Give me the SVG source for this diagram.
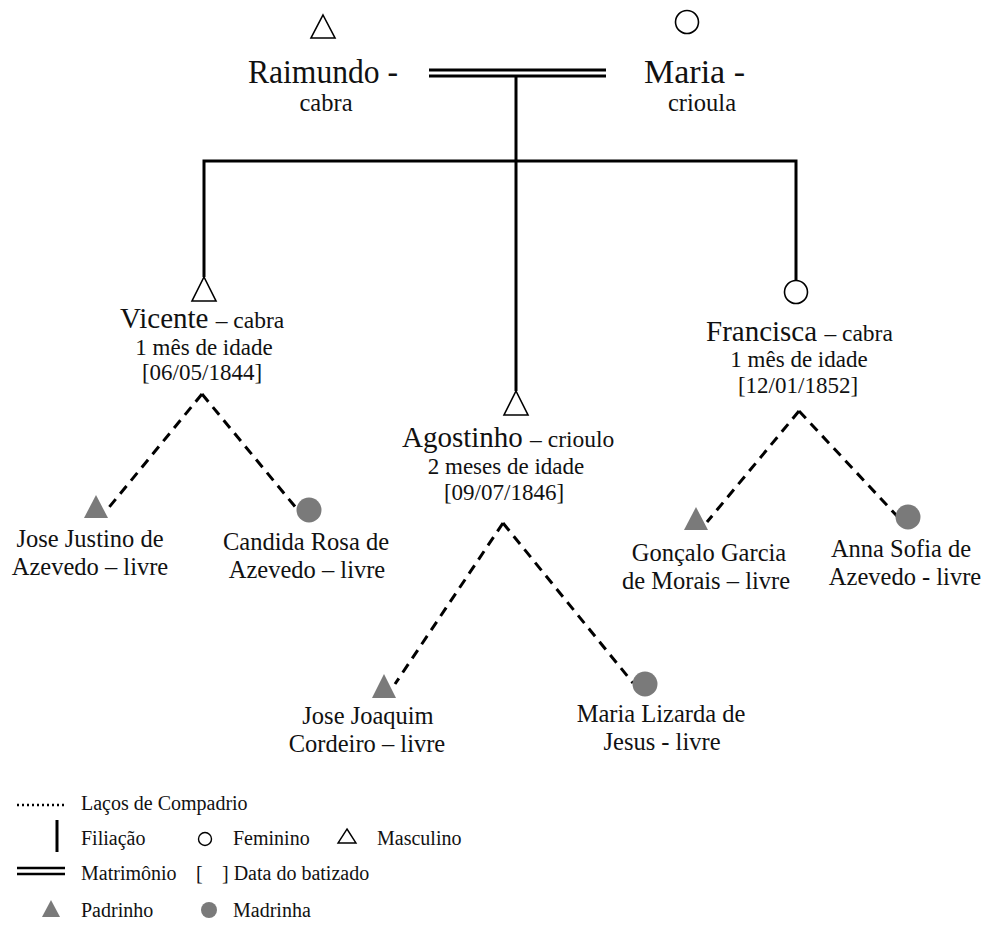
<svg xmlns="http://www.w3.org/2000/svg" width="990" height="925" viewBox="0 0 990 925">
  <defs>
    <style>
      text { font-family: "Liberation Serif", "Times New Roman", serif; fill: #111; }
      .big { font-size: 34px; }
      .name { font-size: 29px; }
      .sub { font-size: 23px; }
      .gp { font-size: 24.5px; }
      .small { font-size: 23.5px; }
      .leg { font-size: 20px; }
      .solid { stroke: #000; stroke-width: 3; fill: none; }
      .dash { stroke: #000; stroke-width: 3; fill: none; stroke-dasharray: 10 7; }
      .sym { stroke: #000; stroke-width: 1.6; fill: #fff; }
      .god { fill: #7a7a7a; stroke: none; }
    </style>
  </defs>
  <rect width="990" height="925" fill="#fff"/>

  <!-- marriage, filiation and compadrio ties -->
  <g id="connectors">
    <line class="solid" x1="429" y1="70" x2="606" y2="70"/>
    <line class="solid" x1="429" y1="76" x2="606" y2="76"/>
    <line class="solid" x1="516" y1="76" x2="516" y2="391"/>
    <polyline class="solid" points="204,277 204,161 796,161 796,281"/>
    <line class="dash" x1="202" y1="394" x2="106" y2="511"/>
    <line class="dash" x1="202" y1="394" x2="297" y2="509"/>
    <line class="dash" x1="503" y1="523" x2="395" y2="684"/>
    <line class="dash" x1="503" y1="523" x2="633" y2="683"/>
    <line class="dash" x1="799" y1="411" x2="707" y2="522"/>
    <line class="dash" x1="799" y1="411" x2="897" y2="516"/>
  </g>

  <g id="raimundo">
    <polygon class="sym" points="323,15 335,38 311,38"/>
    <text class="big" x="248" y="83" textLength="150" lengthAdjust="spacingAndGlyphs">Raimundo -</text>
    <text class="gp" x="326" y="111" text-anchor="middle">cabra</text>
  </g>

  <g id="maria">
    <circle class="sym" cx="687" cy="22" r="11.5"/>
    <text class="big" x="644" y="83">Maria -</text>
    <text class="gp" x="702" y="111" text-anchor="middle">crioula</text>
  </g>

  <g id="vicente">
    <polygon class="sym" points="204,277 216,301 192,301"/>
    <text x="120" y="328"><tspan class="name">Vicente </tspan><tspan class="small">– cabra</tspan></text>
    <text class="sub" x="204" y="355" text-anchor="middle">1 mês de idade</text>
    <text class="sub" x="202" y="380" text-anchor="middle">[06/05/1844]</text>
  </g>

  <g id="agostinho">
    <polygon class="sym" points="516,391 528,415 504,415"/>
    <text x="402" y="447"><tspan class="name">Agostinho </tspan><tspan class="small">– crioulo</tspan></text>
    <text class="sub" x="506" y="474" text-anchor="middle">2 meses de idade</text>
    <text class="sub" x="504" y="500" text-anchor="middle">[09/07/1846]</text>
  </g>

  <g id="francisca">
    <circle class="sym" cx="796" cy="292" r="11.5"/>
    <text x="706" y="341"><tspan class="name">Francisca </tspan><tspan class="small">– cabra</tspan></text>
    <text class="sub" x="799" y="367" text-anchor="middle">1 mês de idade</text>
    <text class="sub" x="798" y="393" text-anchor="middle">[12/01/1852]</text>
  </g>

  <g id="jose-justino">
    <polygon class="god" points="96,495 108,518 84,518"/>
    <text class="gp" x="90" y="547" text-anchor="middle">Jose Justino de</text>
    <text class="gp" x="90" y="575" text-anchor="middle">Azevedo – livre</text>
  </g>

  <g id="candida-rosa">
    <circle class="god" cx="309" cy="510" r="12.5"/>
    <text class="gp" x="306" y="550" text-anchor="middle">Candida Rosa de</text>
    <text class="gp" x="307" y="578" text-anchor="middle">Azevedo – livre</text>
  </g>

  <g id="jose-joaquim">
    <polygon class="god" points="384,674 396,698 372,698"/>
    <text class="gp" x="368" y="724" text-anchor="middle">Jose Joaquim</text>
    <text class="gp" x="367" y="752" text-anchor="middle">Cordeiro – livre</text>
  </g>

  <g id="maria-lizarda">
    <circle class="god" cx="645" cy="684" r="12.5"/>
    <text class="gp" x="661" y="722" text-anchor="middle">Maria Lizarda de</text>
    <text class="gp" x="662" y="750" text-anchor="middle">Jesus - livre</text>
  </g>

  <g id="goncalo-garcia">
    <polygon class="god" points="696,507 708,530 684,530"/>
    <text class="gp" x="709" y="561" text-anchor="middle">Gonçalo Garcia</text>
    <text class="gp" x="706" y="589" text-anchor="middle">de Morais – livre</text>
  </g>

  <g id="anna-sofia">
    <circle class="god" cx="908" cy="517" r="12.5"/>
    <text class="gp" x="901" y="557" text-anchor="middle">Anna Sofia de</text>
    <text class="gp" x="905" y="585" text-anchor="middle">Azevedo - livre</text>
  </g>

  <!-- legend -->
  <g id="legend">
    <line x1="17" y1="805" x2="66" y2="805" stroke="#000" stroke-width="2.5" stroke-dasharray="2 3"/>
    <text class="leg" x="81" y="810">Laços de Compadrio</text>
    <line x1="57" y1="820" x2="57" y2="852" stroke="#000" stroke-width="3"/>
    <text class="leg" x="81" y="845">Filiação</text>
    <circle cx="205" cy="839" r="6.5" fill="#fff" stroke="#000" stroke-width="1.4"/>
    <text class="leg" x="233" y="845">Feminino</text>
    <polygon points="347,829 356,843 338,843" fill="#fff" stroke="#000" stroke-width="1.4"/>
    <text class="leg" x="377" y="845">Masculino</text>
    <line x1="17" y1="868" x2="65" y2="868" stroke="#000" stroke-width="2.5"/>
    <line x1="17" y1="874" x2="65" y2="874" stroke="#000" stroke-width="2.5"/>
    <text class="leg" x="81" y="880">Matrimônio</text>
    <text class="leg" x="196" y="880">[</text>
    <text class="leg" x="222" y="880">] Data do batizado</text>
    <polygon class="god" points="51,900 60,917 42,917"/>
    <text class="leg" x="81" y="917">Padrinho</text>
    <circle class="god" cx="209" cy="910" r="8"/>
    <text class="leg" x="233" y="917">Madrinha</text>
  </g>
</svg>
